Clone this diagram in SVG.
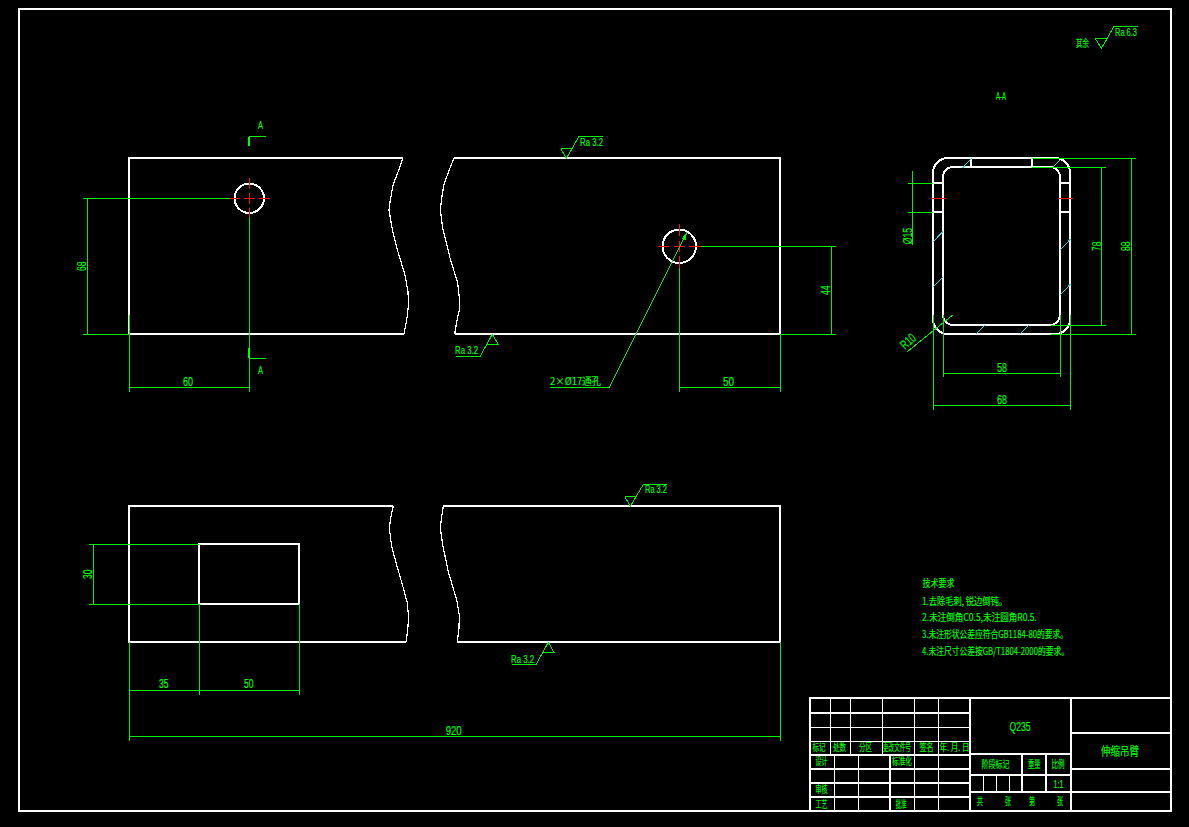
<svg xmlns="http://www.w3.org/2000/svg" width="1189" height="827" viewBox="0 0 1189 827">
<style>
path,circle,rect,polygon{shape-rendering:crispEdges}
.w2{fill:none;stroke:#fff;stroke-width:2}
.w1{fill:none;stroke:#fff;stroke-width:1.2}
.g{fill:none;stroke:#00f000;stroke-width:1}
.gt{fill:none;stroke:#00ff00;stroke-width:2}
.r{fill:none;stroke:#ff1010;stroke-width:1}
.c{fill:none;stroke:#20e0e0;stroke-width:1}
text{fill:#00ff00;stroke:#00ff00;stroke-width:.15;font-family:"Liberation Sans","Noto Sans CJK SC",sans-serif;font-size:13px}
.s{font-size:10px}
.z{font-family:"Noto Sans CJK SC","Liberation Sans",sans-serif;font-size:10px}
</style>
<rect width="1189" height="827" fill="#000"/>
<rect id="frame" class="w2" x="19" y="9" width="1152" height="802"/>

<g id="view-front">
<path class="w2" d="M403 158H129V334H404"/>
<path class="w1" d="M403 158L398 172L393 185L390 202L389 210L392 228L398 252L405 275L408 292L408.500 305L407 318L404 334"/>
<path class="w2" d="M454 158H780V334H455"/>
<path class="w1" d="M454 158L450 168L444 184L441.700 198L440.300 210L442.700 228L450 258L457.700 283L459.300 298L459.300 310L456.700 322L454.700 334"/>
<circle class="w2" cx="249.300" cy="198.300" r="14.700"/>
<circle class="w2" cx="679.300" cy="246.300" r="16.700"/>
<path class="r" d="M230 198.500H240M244 198.500H255M259 198.500H270M249.500 178V188.500M249.500 193V204M249.500 208V217"/>
<path class="r" d="M658 246.500H669M674 246.500H685M689 246.500H701M679.500 224V236M679.500 241V252M679.500 256V268"/>
</g>

<g id="view-plan">
<path class="w2" d="M393 506H129V642H406"/>
<path class="w1" d="M393.300 506L390.700 518L389.300 528L391.700 546.700L396.700 565L403.300 588L407.300 603L408.700 618L407.300 633L406 642"/>
<path class="w2" d="M443 506H780V642H457"/>
<path class="w1" d="M443.300 506L441.700 516.700L440.300 528L442.700 545L448.300 571.700L456.700 600L459.300 615L459 628L457.300 642"/>
<rect class="w2" x="199" y="544" width="100" height="60"/>
</g>

<g id="view-section">
<rect class="w2" x="933" y="158" width="137" height="176" rx="15" ry="15"/>
<rect class="w2" x="943" y="167" width="117" height="158" rx="10" ry="10"/>
<path class="w2" d="M971 158V167M1032 158V167M933 183H943M933 212H943M1060 183H1070M1060 212H1070"/>
<path class="r" d="M931 198.500H946M1058 198.500H1073"/>
<path class="c" d="M962.700 167.700L971.700 158.300M1053.300 166.700L1060 160M933.300 241.700L943.300 231M933.300 286.700L943.300 276.700M1060.300 250L1070.300 239.300M1060.300 295L1070.300 284.300M975.700 334.300L985 325M1020 334.300L1029.300 325"/>
</g>

<g id="connectors">
<path class="g" d="M87.500 198.500V334.500M83 198.500H230M83 334.500H129M129.500 315V392M249.500 217V392M129.500 387.500H249.500"/>
<path class="gt" d="M249 146V137"/>
<path class="g" d="M249 136.500H266M249 358.500H266"/>
<path class="gt" d="M249 348V358"/>
<path class="g" d="M831.500 246.500V334.500M701 246.500H836M780 334.500H836M679.500 268V392M780.500 334V392M679.500 387.500H780.500"/>
<path class="g" d="M550 387.500H609.300L687.300 231.700"/>
<polygon fill="#00f000" points="687.300,231.700 685.500,240 682,238.300"/>
<path class="g" d="M93.500 544.500V604.500M89 544.500H199M89 604.500H199M129.500 642V741M199.500 604V695M299.500 604V695M129.500 690.500H299.500M129.500 736.500H780.500M780.500 642V741"/>
<path class="g" d="M912.500 171V244.500M908 183.500H933M908 212.500H933M1101.500 167.500V325.500M1032 167.500H1106M1051 325.500H1106M1131.500 158.500V334.500M1032 158.500H1136M1051 334.500H1136M943.500 315V377M1060.500 315V377M943.500 373.500H1060.500M933.500 315V410M1070.500 315V410M933.500 405.500H1070.500"/>
<path class="g" d="M907.300 351.700L952.700 315"/>
</g>

<g id="surface-marks">
<path class="g" d="M560.700 148.500H572.300L566.300 158.300L560.700 148.500M566.300 158.300L579 136.500H602.700"/>
<path class="g" d="M486.700 344.500H498.300L492.300 334.300L486.700 344.500M492.300 334.300L480 356.500H456"/>
<path class="g" d="M624.700 496.500H636L630.300 506.300L624.700 496.500M630.300 506.300L643.300 484.500H666.700"/>
<path class="g" d="M542.700 652.500H554L548.300 642.300L542.700 652.500M548.300 642.300L536 664.500H512"/>
<path class="g" d="M1095.300 38.500H1107.300L1101.300 48.300L1095.300 38.500M1101.300 48.300L1114 26.500H1137.700"/>
</g>

<g id="labels">
<text transform="translate(86,271) rotate(-90)" textLength="9.500" lengthAdjust="spacingAndGlyphs">68</text>
<text x="183" y="386" textLength="10" lengthAdjust="spacingAndGlyphs">60</text>
<text x="723" y="386" textLength="11" lengthAdjust="spacingAndGlyphs">50</text>
<text transform="translate(830,295) rotate(-90)" textLength="9.500" lengthAdjust="spacingAndGlyphs">44</text>
<text transform="translate(92,579) rotate(-90)" textLength="9.500" lengthAdjust="spacingAndGlyphs">30</text>
<text x="159" y="688" textLength="9.500" lengthAdjust="spacingAndGlyphs">35</text>
<text x="244" y="688" textLength="9.500" lengthAdjust="spacingAndGlyphs">50</text>
<text x="445.700" y="735" textLength="16" lengthAdjust="spacingAndGlyphs">920</text>
<text x="997" y="372" textLength="10" lengthAdjust="spacingAndGlyphs">58</text>
<text x="997" y="404" textLength="10" lengthAdjust="spacingAndGlyphs">68</text>
<text transform="translate(1100.500,251) rotate(-90)" textLength="9.500" lengthAdjust="spacingAndGlyphs">78</text>
<text transform="translate(1130,251) rotate(-90)" textLength="9.500" lengthAdjust="spacingAndGlyphs">88</text>
<text transform="translate(911.500,244.300) rotate(-90)" textLength="16.500" lengthAdjust="spacingAndGlyphs">Ø15</text>
<text transform="translate(905,350) rotate(-42)" textLength="16" lengthAdjust="spacingAndGlyphs">R10</text>
<text class="z" x="550" y="385" textLength="51" lengthAdjust="spacingAndGlyphs">2×Ø17通孔</text>
<text class="s" x="580" y="145.500" textLength="23" lengthAdjust="spacingAndGlyphs">Ra 3.2</text>
<text class="s" x="455" y="354" textLength="23" lengthAdjust="spacingAndGlyphs">Ra 3.2</text>
<text class="s" x="645" y="493" textLength="22" lengthAdjust="spacingAndGlyphs">Ra 3.2</text>
<text class="s" x="511" y="662.500" textLength="23" lengthAdjust="spacingAndGlyphs">Ra 3.2</text>
<text class="s" x="1115" y="36" textLength="22" lengthAdjust="spacingAndGlyphs">Ra 6.3</text>
<text class="z" x="1076" y="46.500" textLength="13" lengthAdjust="spacingAndGlyphs">其余</text>
<text class="s" x="996" y="100" textLength="10" lengthAdjust="spacingAndGlyphs">A-A</text>
<text class="s" x="258" y="128.500" textLength="5" lengthAdjust="spacingAndGlyphs">A</text>
<text class="s" x="258" y="373.500" textLength="5" lengthAdjust="spacingAndGlyphs">A</text>
</g>

<g id="tech-notes">
<text class="z" x="922.500" y="587" textLength="32" lengthAdjust="spacingAndGlyphs">技术要求</text>
<text class="z" x="922" y="604.500" textLength="85" lengthAdjust="spacingAndGlyphs">1.去除毛刺, 锐边倒钝。</text>
<text class="z" x="922" y="621" textLength="115" lengthAdjust="spacingAndGlyphs">2.未注倒角C0.5,未注圆角R0.5.</text>
<text class="z" x="922" y="638" textLength="146" lengthAdjust="spacingAndGlyphs">3.未注形状公差应符合GB1184-80的要求。</text>
<text class="z" x="922" y="655" textLength="147" lengthAdjust="spacingAndGlyphs">4.未注尺寸公差按GB/T1804-2000的要求。</text>
</g>

<g id="title-block">
<rect class="w2" x="810" y="698" width="361" height="113"/>
<path class="w2" d="M970 698V811M1071 698V811M970 754H1071M1071 733H1171M1071 769H1171M970 792H1171"/>
<path class="w1" d="M810 713H970M810 727.500H970M810 741.500H970"/>
<path class="w2" d="M810 754.500H970M810 768.500H970M810 782.500H970M810 796.500H970"/>
<path class="w1" d="M830.500 698V754M850.500 698V754M882.500 698V754M914.500 698V754M938.500 698V754M834.500 754V811M858.500 754V811M890 754V811M914.500 754V811M938.500 754V811"/>
<path class="w1" d="M970 775H1071M1022 754V792M1046 754V792M983.500 775V792M996.500 775V792M1009.500 775V792"/>
<g class="tb">
<text class="z" x="812.500" y="751" textLength="13" lengthAdjust="spacingAndGlyphs">标记</text>
<text class="z" x="833" y="751" textLength="13" lengthAdjust="spacingAndGlyphs">处数</text>
<text class="z" x="859" y="751" textLength="13" lengthAdjust="spacingAndGlyphs">分区</text>
<text class="z" transform="translate(883,751) scale(.56,1)">更改文件号</text>
<text class="z" x="919.500" y="751" textLength="14" lengthAdjust="spacingAndGlyphs">签名</text>
<text class="z" x="939.500" y="751" textLength="30" lengthAdjust="spacingAndGlyphs">年. 月. 日</text>
<text class="z" x="815.500" y="765" textLength="12" lengthAdjust="spacingAndGlyphs">设计</text>
<text class="z" x="892" y="765" textLength="20" lengthAdjust="spacingAndGlyphs">标准化</text>
<text class="z" x="815.500" y="793" textLength="12" lengthAdjust="spacingAndGlyphs">审核</text>
<text class="z" x="815.500" y="807.500" textLength="12" lengthAdjust="spacingAndGlyphs">工艺</text>
<text class="z" x="895.500" y="807.500" textLength="11" lengthAdjust="spacingAndGlyphs">批准</text>
<text x="1009.500" y="731" textLength="21" lengthAdjust="spacingAndGlyphs">Q235</text>
<text class="z" x="981.500" y="768" textLength="28" lengthAdjust="spacingAndGlyphs">阶段标记</text>
<text class="z" x="1028" y="768" textLength="12.500" lengthAdjust="spacingAndGlyphs">重量</text>
<text class="z" x="1051.500" y="768" textLength="13" lengthAdjust="spacingAndGlyphs">比例</text>
<text class="s" x="1053.500" y="787.500" textLength="10" lengthAdjust="spacingAndGlyphs">1:1</text>
<text class="z" x="977" y="805" textLength="6" lengthAdjust="spacingAndGlyphs">共</text>
<text class="z" x="1005" y="805" textLength="6" lengthAdjust="spacingAndGlyphs">张</text>
<text class="z" x="1029" y="805" textLength="6" lengthAdjust="spacingAndGlyphs">第</text>
<text class="z" x="1057" y="805" textLength="6" lengthAdjust="spacingAndGlyphs">张</text>
<text class="z" x="1101" y="756" textLength="38" lengthAdjust="spacingAndGlyphs" style="font-size:12px">伸缩吊臂</text>
</g>
</g>
</svg>
